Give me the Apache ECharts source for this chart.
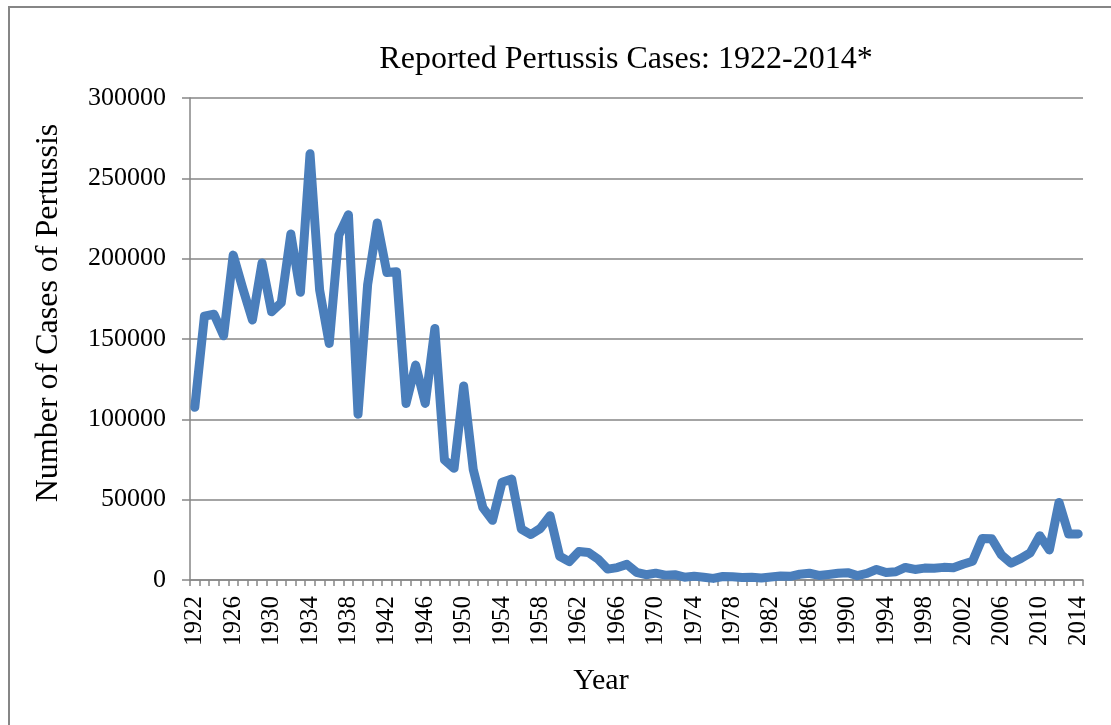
<!DOCTYPE html>
<html>
<head>
<meta charset="utf-8">
<script src="https://cdn.jsdelivr.net/npm/echarts@6/dist/echarts.min.js"></script>
<style>
html,body{margin:0;padding:0;background:#fff;}
#chart{width:1111px;height:725px;}
</style>
</head>
<body>
<div id="chart"></div>
<script>
var years = [];
for (var y = 1922; y <= 2014; y++) { years.push(String(y)); }

var cases = [
  107473, 164191, 165418, 152003, 202210, 181411, 161799, 197371, 166914, 172559,
  215343, 179135, 265269, 180518, 147237, 214652, 227319, 103188, 183866, 222202,
  191383, 191890, 109873, 133792, 109860, 156517, 74715, 69479, 120718, 68687,
  45030, 37129, 60886, 62786, 31732, 28295, 32148, 40005, 14809, 11468,
  17749, 17135, 13005, 6799, 7717, 9718, 4810, 3285, 4249, 3036,
  3287, 1759, 2402, 1738, 1010, 2177, 2063, 1623, 1730, 1248,
  1895, 2463, 2276, 3589, 4195, 2823, 3450, 4157, 4570, 2719,
  4083, 6586, 4617, 5137, 7796, 6564, 7405, 7298, 7867, 7580,
  9771, 11647, 25827, 25616, 15632, 10454, 13278, 16858, 27550, 18719,
  48277, 28639, 28660
];

var titleText = 'Reported Pertussis Cases: 1922-2014*';
var yAxisTitle = 'Number of Cases of Pertussis';
var xAxisTitle = 'Year';

var chart = echarts.init(document.getElementById('chart'), null, {renderer: 'canvas'});
var serif = '"Liberation Serif", serif';
var gray = '#868686';

chart.setOption({
  animation: false,
  backgroundColor: '#ffffff',
  textStyle: {fontFamily: serif},
  grid: {left: 190, right: 28, top: 98, bottom: 145, containLabel: false},
  graphic: [
    {type: 'rect', shape: {x: 9, y: 7, width: 1200, height: 800},
     style: {fill: 'none', stroke: gray, lineWidth: 2}, silent: true},
    {type: 'text', x: 626, y: 60,
     style: {text: titleText, fontSize: 32, fontFamily: serif, fill: '#000', textAlign: 'center', textVerticalAlign: 'middle'}},
    {type: 'text', x: 49, y: 313, rotation: Math.PI / 2,
     style: {text: yAxisTitle, fontSize: 32, fontFamily: serif, fill: '#000', textAlign: 'center', textVerticalAlign: 'middle'}},
    {type: 'text', x: 601, y: 681,
     style: {text: xAxisTitle, fontSize: 30, fontFamily: serif, fill: '#000', textAlign: 'center', textVerticalAlign: 'middle'}}
  ],
  xAxis: {
    type: 'category',
    data: years,
    boundaryGap: true,
    axisLine: {show: true, lineStyle: {color: gray, width: 1.5}},
    axisTick: {show: true, interval: 0, length: 6, lineStyle: {color: gray, width: 1.5}},
    axisLabel: {interval: 3, rotate: 90, margin: 16, color: '#000', fontFamily: serif, fontSize: 25},
    splitLine: {show: false}
  },
  yAxis: {
    type: 'value',
    min: 0, max: 300000, interval: 50000,
    axisLine: {show: true, lineStyle: {color: gray, width: 1.5}},
    axisTick: {show: true, length: 8, lineStyle: {color: gray, width: 1.5}},
    axisLabel: {margin: 24, color: '#000', fontFamily: serif, fontSize: 26,
                formatter: function (v) { return String(v); }},
    splitLine: {show: true, lineStyle: {color: gray, width: 1.5}}
  },
  series: [{
    type: 'line',
    data: cases,
    showSymbol: false,
    symbol: 'none',
    lineStyle: {color: '#4a7ebb', width: 9, join: 'round', cap: 'round'},
    itemStyle: {color: '#4a7ebb'}
  }]
});
</script>
</body>
</html>
